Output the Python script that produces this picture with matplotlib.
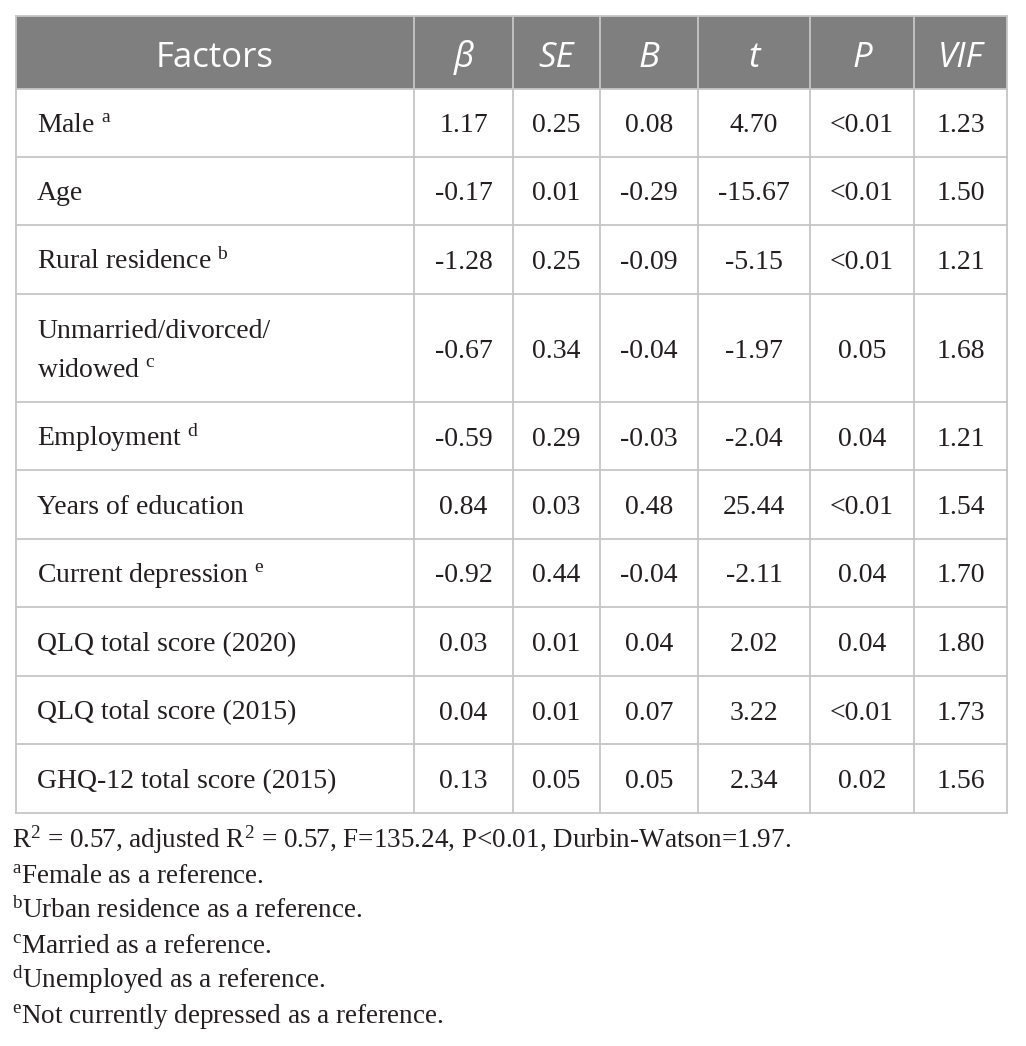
import matplotlib.pyplot as plt
from matplotlib.patches import Rectangle

plt.rcParams['mathtext.fontset'] = 'custom'
plt.rcParams['mathtext.rm'] = 'Liberation Serif'
plt.rcParams['mathtext.it'] = 'Liberation Serif:italic'

# === Table data ===
headers = ["Factors", "β", "SE", "B", "t", "P", "VIF"]
factors = ["Male", "Age", "Rural residence", "Unmarried/divorced/\nwidowed", "Employment",
           "Years of education", "Current depression", "QLQ total score (2020)",
           "QLQ total score (2015)", "GHQ-12 total score (2015)"]
sups = ["a", "", "b", "c", "d", "", "e", "", "", ""]
beta = ["1.17", "-0.17", "-1.28", "-0.67", "-0.59", "0.84", "-0.92", "0.03", "0.04", "0.13"]
se = ["0.25", "0.01", "0.25", "0.34", "0.29", "0.03", "0.44", "0.01", "0.01", "0.05"]
b_std = ["0.08", "-0.29", "-0.09", "-0.04", "-0.03", "0.48", "-0.04", "0.04", "0.07", "0.05"]
t_val = ["4.70", "-15.67", "-5.15", "-1.97", "-2.04", "25.44", "-2.11", "2.02", "3.22", "2.34"]
p_val = ["<0.01", "<0.01", "<0.01", "0.05", "0.04", "<0.01", "0.04", "0.04", "<0.01", "0.02"]
vif = ["1.23", "1.50", "1.21", "1.68", "1.21", "1.54", "1.70", "1.80", "1.73", "1.56"]

notes = [("", "R$^{\\mathrm{2}}$ = 0.57, adjusted R$^{\\mathrm{2}}$ = 0.57, F=135.24, P<0.01, Durbin-Watson=1.97."),
         ("a", "Female as a reference."),
         ("b", "Urban residence as a reference."),
         ("c", "Married as a reference."),
         ("d", "Unemployed as a reference."),
         ("e", "Not currently depressed as a reference.")]

# === Layout (pixels) ===
W, H = 1026, 1046
col_edges = [16, 414, 513, 600, 698, 810, 914, 1007]
head_top, head_bot = 16, 89
row_heights = [68, 68, 69, 108, 68, 69, 68, 69, 68, 69]
header_col = "#7f7f7f"
line_col = "#c6c6c6"
text_col = "#231f20"
body_fs = 20
note_fs = 19.5

fig = plt.figure(figsize=(W / 100, H / 100), dpi=100)
ax = fig.add_axes([0, 0, 1, 1])
ax.set_xlim(0, W)
ax.set_ylim(H, 0)
ax.axis('off')

# header
ax.add_patch(Rectangle((col_edges[0], head_top), col_edges[-1] - col_edges[0],
                       head_bot - head_top, facecolor=header_col, edgecolor='none'))
for i, h in enumerate(headers):
    xc = (col_edges[i] + col_edges[i + 1]) / 2
    ax.text(xc, 67, h, ha='center', va='baseline', color='white',
            fontsize=25, family='Open Sans', style='normal' if i == 0 else 'italic')

# body
row_edges = [head_bot]
for rh in row_heights:
    row_edges.append(row_edges[-1] + rh)

columns = [beta, se, b_std, t_val, p_val, vif]
for r in range(len(factors)):
    y0, y1 = row_edges[r], row_edges[r + 1]
    base = (y0 + y1) / 2 + 9.5
    lines = factors[r].split("\n")
    n = len(lines)
    for k, ln in enumerate(lines):
        yl = base + (k - (n - 1) / 2) * 39
        label = ln
        if k == n - 1 and sups[r]:
            label = ln + " $^{\\mathrm{" + sups[r] + "}}$"
        ax.text(37, yl, label, ha='left', va='baseline', fontsize=body_fs,
                family='Liberation Serif', color=text_col)
    for c, col in enumerate(columns):
        xc = (col_edges[c + 1] + col_edges[c + 2]) / 2
        ax.text(xc, base, col[r], ha='center', va='baseline', fontsize=body_fs,
                family='Liberation Serif', color=text_col)

# grid lines
for x in col_edges:
    ax.plot([x, x], [head_top, row_edges[-1]], color=line_col, lw=1.3, zorder=3)
for y in [head_top] + row_edges:
    ax.plot([col_edges[0], col_edges[-1]], [y, y], color=line_col, lw=1.3, zorder=3)

# footnotes
for i, (s, txt) in enumerate(notes):
    label = txt if not s else "$^{\\mathrm{" + s + "}}$" + txt
    ax.text(12, 848 + i * 35, label, ha='left', va='baseline', fontsize=note_fs,
            family='Liberation Serif', color=text_col)

fig.savefig("out.png", dpi=100)
